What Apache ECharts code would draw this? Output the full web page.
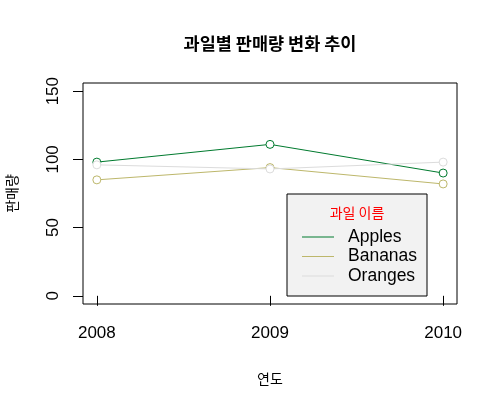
<!DOCTYPE html>
<html>
<head>
<meta charset="utf-8">
<script src="https://cdn.jsdelivr.net/npm/echarts@6/dist/echarts.min.js"></script>
<style>html,body{margin:0;padding:0;background:#fff;}#c{width:500px;height:409px;}</style>
</head>
<body>
<div id="c"></div>
<script>
var years = [2008, 2009, 2010];
var apples = [98, 111, 90];
var bananas = [85, 94, 82];
var oranges = [96, 93, 98];
var yTicks = [0, 50, 100, 150];
var seriesNames = ['Apples', 'Bananas', 'Oranges'];
var seriesColors = ['#007a2e', '#bdb76b', '#dcdcdc'];
var seriesValues = [apples, bananas, oranges];

var FONT = "'Liberation Sans', 'Noto Sans CJK KR', sans-serif";
var KFONT = "'Noto Sans CJK KR', 'Liberation Sans', sans-serif";

function pairs(vals) { return years.map(function (y, i) { return [y, vals[i]]; }); }

var chart = echarts.init(document.getElementById('c'));
chart.setOption({
  animation: false,
  backgroundColor: '#fff',
  title: {
    text: '과일별 판매량 변화 추이',
    left: 270, top: 35, textAlign: 'center', padding: 0,
    textStyle: { fontFamily: KFONT, fontSize: 17.5, fontWeight: 'bold', color: '#000' }
  },
  grid: { left: 83, right: 43, top: 83, bottom: 105, show: true, borderColor: '#000', borderWidth: 1, backgroundColor: 'transparent', containLabel: false, outerBoundsMode: 'none' },
  xAxis: {
    type: 'value', min: 2007.92, max: 2010.08,
    name: '연도', nameLocation: 'middle', nameGap: 68,
    nameTextStyle: { fontFamily: KFONT, fontSize: 14, color: '#000' },
    axisLine: { show: false },
    splitLine: { show: false },
    axisTick: { show: true, length: 10, inside: false, customValues: years, lineStyle: { color: '#000' } },
    axisLabel: { customValues: years, margin: 21, fontFamily: FONT, fontSize: 17, color: '#000', formatter: function (v) { return String(v); } }
  },
  yAxis: {
    type: 'value', min: -6, max: 156,
    name: '판매량', nameLocation: 'middle', nameGap: 64,
    nameTextStyle: { fontFamily: KFONT, fontSize: 14, color: '#000' },
    axisLine: { show: false },
    splitLine: { show: false },
    axisTick: { show: true, length: 10, inside: false, customValues: yTicks, lineStyle: { color: '#000' } },
    axisLabel: { customValues: yTicks, rotate: 90, margin: 21, fontFamily: FONT, fontSize: 17, color: '#000' }
  },
  legend: {
    orient: 'vertical', left: 302, top: 228, padding: 0,
    icon: 'rect', itemWidth: 32, itemHeight: 1, itemGap: 1.5,
    data: seriesNames.map(function (n, i) {
      return { name: n, itemStyle: { color: seriesColors[i], borderWidth: 0 } };
    }),
    textStyle: { fontFamily: FONT, fontSize: 17.5, lineHeight: 18, color: '#000', padding: [0, 0, 0, 9] },
    z: 10
  },
  graphic: [
    { type: 'rect', z: 5, shape: { x: 287, y: 194, width: 140, height: 102 }, style: { fill: '#f2f2f2', stroke: '#000', lineWidth: 1 } },
    { type: 'text', z: 11, x: 357, y: 213, style: { text: '과일 이름', fill: '#ff0000', font: '14px ' + KFONT, align: 'center', verticalAlign: 'middle' } }
  ],
  series: seriesNames.map(function (n, i) {
    return {
      name: n, type: 'line', data: pairs(seriesValues[i]),
      color: seriesColors[i],
      symbol: 'circle', symbolSize: 8,
      lineStyle: { color: seriesColors[i], width: 1 },
      itemStyle: { color: '#ffffff', borderColor: seriesColors[i], borderWidth: 1 }
    };
  })
});
</script>
</body>
</html>
